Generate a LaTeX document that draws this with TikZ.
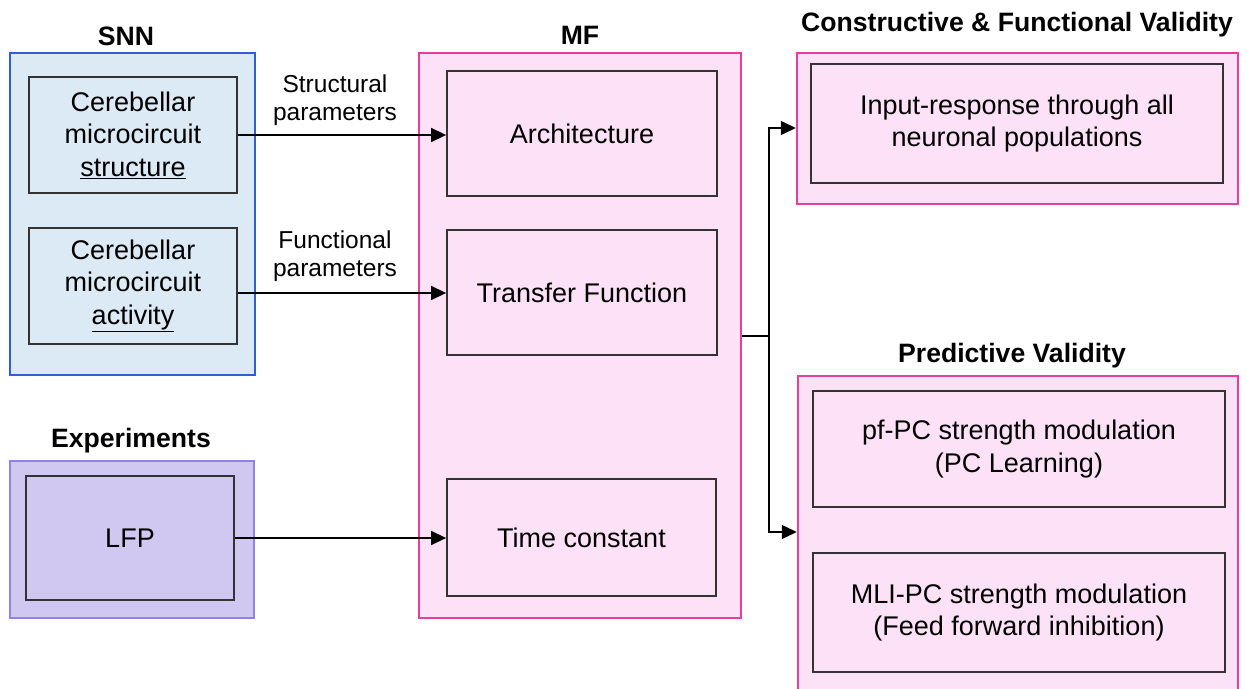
\documentclass[tikz,border=0pt]{standalone}
\usepackage{fontspec}
\setmainfont{Liberation Sans}
\usetikzlibrary{arrows.meta,calc}
\definecolor{snnblue}{HTML}{2F5FD8}
\definecolor{snnfill}{HTML}{DCEAF5}
\definecolor{expborder}{HTML}{9282E8}
\definecolor{expfill}{HTML}{D0C8F1}
\definecolor{mfborder}{HTML}{E8409A}
\definecolor{mffill}{HTML}{FDE1F7}
\definecolor{innerline}{HTML}{333333}
\begin{document}
\begin{tikzpicture}[x=1pt,y=-1pt,
  outer/.style={line width=2.5pt,inner sep=0pt},
  snnbox/.style={outer,draw=snnblue,fill=snnfill},
  expbox/.style={outer,draw=expborder,fill=expfill},
  mfbox/.style={outer,draw=mfborder,fill=mffill},
  box/.style={draw=innerline,line width=1.8pt,inner sep=0pt,align=center,font=\fontsize{27}{32.5}\selectfont},
  title/.style={font=\bfseries\fontsize{26.6}{30}\selectfont,inner sep=0pt},
  lbl/.style={font=\fontsize{24.5}{28}\selectfont,align=center,inner sep=0pt},
  arr/.style={line width=1.5pt,-{Triangle[length=15pt,width=14pt]}},
  conn/.style={line width=1.5pt}]
\clip (0,0) rectangle (1247,688);
\fill[white] (0,0) rectangle (1247,688);
% outer containers
\node[snnbox,minimum width=245pt,minimum height=322pt] (snn) at (132.5,214) {};
\node[expbox,minimum width=244pt,minimum height=157pt] (exp) at (132,539.5) {};
\node[mfbox,minimum width=322pt,minimum height=565pt] (mf) at (580,335.5) {};
\node[mfbox,minimum width=441pt,minimum height=151pt] (cfv) at (1017.5,128.5) {};
\node[mfbox,minimum width=440pt,minimum height=324pt] (pv) at (1018,538) {};
% titles
\node[title] (tsnn) at (126,36) {SNN};
\node[title] (tmf) at (580,35) {MF};
\node[title] (texp) at (131,441) {Experiments};
\node[title] (tcfv) at (1017,25) {Constructive \& Functional Validity};
\node[title] (tpv) at (1012,356) {Predictive Validity};
% inner boxes
\node[box,minimum width=208pt,minimum height=116pt] (s1) at (133,135) {Cerebellar\\microcircuit\\\underline{structure}};
\node[box,minimum width=208pt,minimum height=116pt] (s2) at (133,286) {Cerebellar\\microcircuit\\\underline{activity}};
\node[box,minimum width=208pt,minimum height=124pt] (lfp) at (130,538) {LFP};
\node[box,minimum width=270pt,minimum height=125pt] (arch) at (582,133.5) {Architecture};
\node[box,minimum width=270pt,minimum height=125pt] (tf) at (582,292.5) {Transfer Function};
\node[box,minimum width=269pt,minimum height=117pt] (tc) at (581.5,537.5) {Time constant};
\node[box,minimum width=412pt,minimum height=119pt] (ir) at (1017,123.5) {Input-response through all\\neuronal populations};
\node[box,minimum width=412pt,minimum height=116pt] (pf) at (1019,449) {pf-PC strength modulation\\(PC Learning)};
\node[box,minimum width=412pt,minimum height=119pt] (mli) at (1019,612.5) {MLI-PC strength modulation\\(Feed forward inhibition)};
% labels
\node[lbl] (l1) at (335,100) {Structural\\parameters};
\node[lbl] (l2) at (335,256) {Functional\\parameters};
% connectors
\draw[arr] (s1.east) -- (s1.east -| arch.west);
\draw[arr] ($(s2.east |- tf.west)+(0,0.5)$) -- ($(tf.west)+(0,0.5)$);
\draw[arr] (lfp.east) -- (lfp.east -| tc.west);
\coordinate (j) at (769,336);
\draw[conn] (mf.east |- j) -- (j);
\draw[arr] (j) |- ($(cfv.west)+(0,-0.5)$);
\draw[arr] (j) |- ($(pv.west)+(0,-6)$);
\end{tikzpicture}
\end{document}
